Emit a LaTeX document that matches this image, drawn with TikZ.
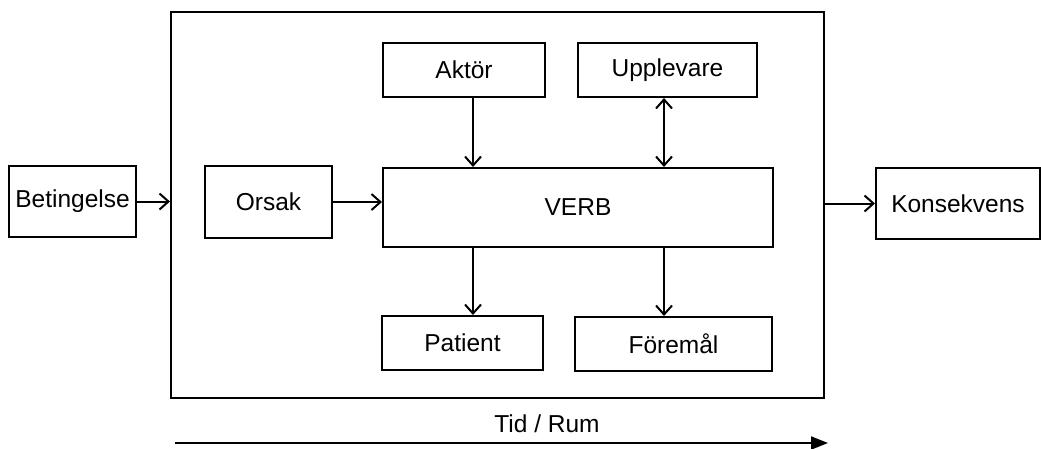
\documentclass[tikz,border=0pt]{standalone}
\usepackage{fontspec}
\setmainfont{Liberation Sans}
\usetikzlibrary{arrows.meta, positioning, calc}

\begin{document}
\begin{tikzpicture}[
    x=1pt, y=-1pt,
    line width=2pt,
    font=\fontsize{24.5}{28}\selectfont,
    rolebox/.style={draw, rectangle, inner sep=0pt, text centered},
    rarrow/.style={-{Straight Barb[length=9pt, width=16pt, line width=2pt]}},
    darrow/.style={{Straight Barb[length=9pt, width=16pt, line width=2pt]}-{Straight Barb[length=9pt, width=16pt, line width=2pt]}},
    tarrow/.style={-{Triangle[length=17pt, width=13pt]}}
]
\useasboundingbox (0,0) rectangle (1041,448);
% outer frame
\node[rolebox, minimum width=653pt, minimum height=386pt] (ram) at (497.5,205) {};
% roles around the verb
\node[rolebox, minimum width=127pt, minimum height=71pt] (bet) at (72.5,201.5) {Betingelse};
\node[rolebox, minimum width=127pt, minimum height=72pt] (orsak) at (268.5,202) {Orsak};
\node[rolebox, minimum width=390pt, minimum height=79pt] (verb) at (578,207.5) {VERB};
\node[rolebox, minimum width=162pt, minimum height=54pt] (aktor) at (464,70) {Akt\"or};
\node[rolebox, minimum width=179pt, minimum height=54pt] (upp) at (667.5,70) {Upplevare};
\node[rolebox, minimum width=161pt, minimum height=54pt] (pat) at (462.5,343) {Patient};
\node[rolebox, minimum width=197pt, minimum height=54pt] (forem) at (673.5,344) {F\"orem\aa l};
\node[rolebox, minimum width=164pt, minimum height=71pt] (kons) at (958,203.5) {Konsekvens};
\coordinate (xa) at (473,0);
\coordinate (xb) at (664,0);
% connectors
\draw[rarrow] (bet.east) -- (bet.east -| ram.west);
\draw[rarrow] (orsak.east) -- (orsak.east -| verb.west);
\draw[rarrow] (aktor.south -| xa) -- (verb.north -| xa);
\draw[darrow] (upp.south -| xb) -- (verb.north -| xb);
\draw[rarrow] (verb.south -| xa) -- (pat.north -| xa);
\draw[rarrow] (verb.south -| xb) -- (forem.north -| xb);
\draw[rarrow] (kons.west -| ram.east) -- (kons.west);
% time axis
\node (tid) at (547,424) {Tid / Rum};
\coordinate (t0) at (175,443);
\coordinate (t1) at (828,443);
\draw[tarrow] (t0) -- (t1);
\end{tikzpicture}
\end{document}
